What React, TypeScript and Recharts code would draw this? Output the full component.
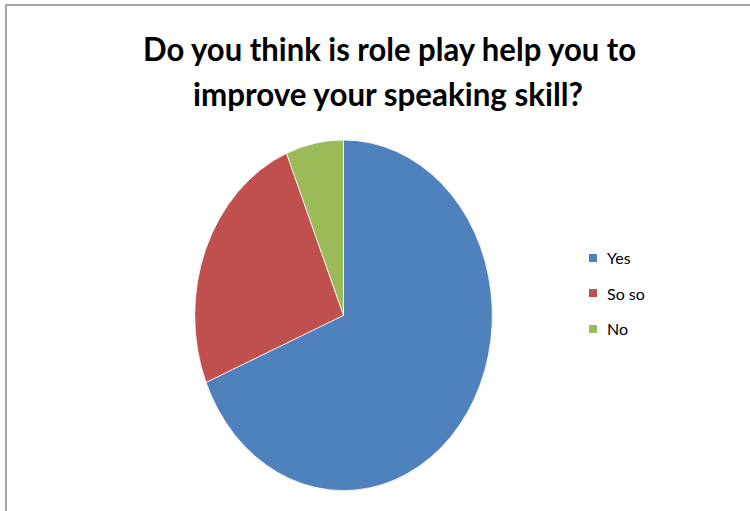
import React from 'react'
import { PieChart, Pie, Cell, Legend } from 'recharts'

const categories = ['Yes', 'So so', 'No']
const counts = [11, 4, 1]
const colors = ['#4F81BD', '#C0504D', '#9BBB59']
const titleLines = ['Do you think is role play help you to', 'improve your speaking skill?']

const data = categories.map((name, i) => ({ name, value: counts[i] }))

// the pie in the picture is stretched vertically
const Y_SCALE = 175.3 / 148.8

function EllipseSector(props: any) {
  const { cx, cy, outerRadius, startAngle, endAngle, fill } = props
  const rx = outerRadius
  const ry = outerRadius * Y_SCALE
  const rad = Math.PI / 180
  const pt = (a: number) => [cx + rx * Math.cos(-a * rad), cy + ry * Math.sin(-a * rad)]
  const [x1, y1] = pt(startAngle)
  const [x2, y2] = pt(endAngle)
  const large = Math.abs(endAngle - startAngle) > 180 ? 1 : 0
  const sweep = startAngle > endAngle ? 1 : 0
  const d = `M${cx},${cy} L${x1},${y1} A${rx},${ry} 0 ${large} ${sweep} ${x2},${y2} Z`
  return <path d={d} fill={fill} stroke="#ffffff" strokeWidth={0.75} />
}

function LegendContent(props: any) {
  // keep the data order (Yes, So so, No) whatever order the payload comes in
  const items = [...(props.payload || [])].sort(
    (a: any, b: any) => categories.indexOf(a.value) - categories.indexOf(b.value)
  )
  return (
    <div style={{ fontFamily: 'Lato, sans-serif', fontSize: 16, color: '#000' }}>
      {items.map((entry: any, i: number) => (
        <div key={`leg-${i}`} style={{ display: 'flex', alignItems: 'center', height: 35.5 }}>
          <span style={{ display: 'inline-block', width: 8, height: 8, background: entry.color, marginRight: 10 }} />
          <span>{entry.value}</span>
        </div>
      ))}
    </div>
  )
}

export default function App() {
  return (
    <div style={{ position: 'absolute', left: 0, top: 0, width: 750, height: 511, background: '#fff' }}>
      <div
        style={{
          position: 'absolute',
          left: 5,
          top: 4,
          width: 760,
          height: 520,
          borderTop: '2px solid #a6a6a6',
          borderLeft: '2px solid #a6a6a6',
        }}
      />
      <svg width={750} height={130} style={{ position: 'absolute', left: 0, top: 0 }}>
        <text x={389.5} y={61} textAnchor="middle" fontFamily="Lato, sans-serif" fontWeight={700} fontSize={32}
          textLength={493} lengthAdjust="spacingAndGlyphs" fill="#000">
          {titleLines[0]}
        </text>
        <text x={388} y={106} textAnchor="middle" fontFamily="Lato, sans-serif" fontWeight={700} fontSize={32}
          textLength={390} lengthAdjust="spacingAndGlyphs" fill="#000">
          {titleLines[1]}
        </text>
      </svg>
      <div style={{ position: 'absolute', left: 0, top: 0 }}>
        <PieChart width={750} height={511} margin={{ top: 0, right: 0, bottom: 0, left: 0 }}>
          <Pie
            data={data}
            dataKey="value"
            nameKey="name"
            cx={343.5}
            cy={315.3}
            outerRadius={148.8}
            startAngle={90}
            endAngle={-270}
            shape={EllipseSector}
            isAnimationActive={false}
            stroke="#ffffff"
          >
            {data.map((entry, i) => (
              <Cell key={`cell-${i}`} fill={colors[i]} />
            ))}
          </Pie>
          <Legend
            layout="vertical"
            content={LegendContent}
            wrapperStyle={{ position: 'absolute', left: 589, top: 240, width: 100 }}
          />
        </PieChart>
      </div>
    </div>
  )
}
